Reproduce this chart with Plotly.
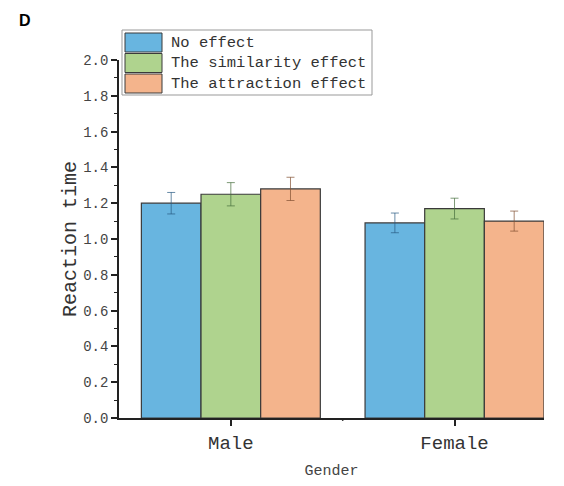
import plotly.graph_objects as go

# Reaction time by gender and effect condition
genders = ["Male", "Female"]
series_names = ["No effect", "The similarity effect", "The attraction effect"]
no_effect = [1.20, 1.09]
similarity = [1.25, 1.17]
attraction = [1.28, 1.10]
no_effect_err = [0.060, 0.055]
similarity_err = [0.065, 0.058]
attraction_err = [0.065, 0.056]
y_ticks = [0.0, 0.2, 0.4, 0.6, 0.8, 1.0, 1.2, 1.4, 1.6, 1.8, 2.0]

fills = ["#68B5E0", "#AFD38E", "#F4B48C"]
err_colors = ["rgba(40,90,130,0.7)", "rgba(70,110,60,0.7)", "rgba(130,80,50,0.7)"]
FONT = "Liberation Mono"

fig = go.Figure()
for name, vals, errs, fc, ec in zip(
    series_names,
    [no_effect, similarity, attraction],
    [no_effect_err, similarity_err, attraction_err],
    fills, err_colors,
):
    fig.add_trace(go.Bar(
        x=genders, y=vals, name=name,
        marker=dict(color=fc, line=dict(color="#3a3a3a", width=1.2)),
        error_y=dict(type="data", array=errs, visible=True,
                     color=ec, thickness=1, width=4),
        showlegend=False,
    ))

fig.update_layout(
    width=564, height=486,
    margin=dict(l=119, r=20, t=60, b=68),
    paper_bgcolor="white", plot_bgcolor="white",
    barmode="group", bargap=0.2, bargroupgap=0,
    font=dict(family=FONT, color="#333"),
    xaxis=dict(
        type="category", range=[-0.5, 1.4], automargin=False,
        showline=True, linecolor="#222", linewidth=1.5,
        ticks="outside", ticklen=6, tickcolor="#222", tickwidth=1.5,
        tickfont=dict(size=19, family=FONT, color="#333"),
        title=dict(text="Gender", font=dict(size=15, family=FONT, color="#444"), standoff=11),
        showgrid=False, zeroline=False,
    ),
    yaxis=dict(
        range=[0, 2.0], tickvals=y_ticks, tickformat=".1f", automargin=False,
        showline=True, linecolor="#222", linewidth=1.5,
        ticks="outside", ticklen=6, tickcolor="#222", tickwidth=1.5,
        minor=dict(dtick=0.1, ticks="outside", ticklen=3, tickcolor="#222", tickwidth=1.2),
        tickfont=dict(size=14, family=FONT, color="#444"),
        title=dict(text="Reaction time", font=dict(size=20, family=FONT, color="#333"), standoff=1),
        showgrid=False, zeroline=False,
    ),
)

# minor tick between the two gender groups
fig.add_shape(type="line", xref="x", yref="paper", x0=0.5, x1=0.5, y0=0, y1=-0.008,
              line=dict(color="#222", width=1.5))

# legend box with swatches, positioned in pixel terms
pw = 564 - 119 - 20
ph = 486 - 60 - 68
def px_x(p):
    return (p - 119) / pw
def px_y(p):
    return (486 - 68 - p) / ph

# panel letter
fig.add_annotation(text="<b>D</b>", xref="paper", yref="paper", x=px_x(25), y=px_y(21),
                   xanchor="center", yanchor="middle", showarrow=False,
                   font=dict(family="Liberation Sans", size=16, color="black"))

fig.add_shape(type="rect", xref="paper", yref="paper",
              x0=px_x(122), x1=px_x(372), y0=px_y(95), y1=px_y(30),
              line=dict(color="#999", width=1), fillcolor="white", layer="above")
for i, (name, fc) in enumerate(zip(series_names, fills)):
    top = 33 + i * 20.5
    fig.add_shape(type="rect", xref="paper", yref="paper",
                  x0=px_x(125), x1=px_x(162), y0=px_y(top + 19), y1=px_y(top),
                  line=dict(color="#3a3a3a", width=1), fillcolor=fc, layer="above")
    fig.add_annotation(text=name, xref="paper", yref="paper",
                       x=px_x(169), y=px_y(top + 10), xanchor="left", yanchor="middle",
                       showarrow=False, font=dict(family=FONT, size=15.5, color="#333"))

fig.write_html("out.html")
